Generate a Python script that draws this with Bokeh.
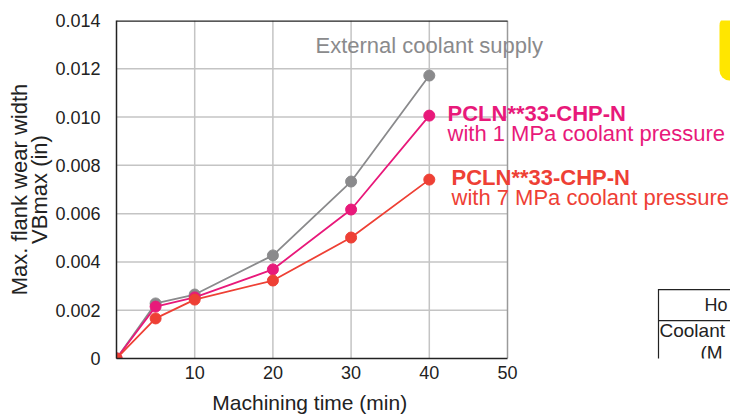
from bokeh.plotting import figure
from bokeh.models import Label, BoxAnnotation, PolyAnnotation, FixedTicker
from bokeh.embed import file_html
from bokeh.resources import INLINE

time_min = [0, 5, 10, 20, 30, 40]
external = [0.0, 0.00228, 0.00265, 0.00427, 0.00733, 0.01172]
mpa1 = [0.0, 0.00215, 0.00253, 0.00369, 0.00617, 0.01006]
mpa7 = [0.0, 0.00166, 0.00244, 0.00323, 0.00501, 0.00741]
x_ticks = [10, 20, 30, 40, 50]
y_ticks = [0, 0.002, 0.004, 0.006, 0.008, 0.010, 0.012, 0.014]
y_tick_labels = ["0", "0.002", "0.004", "0.006", "0.008", "0.010", "0.012", "0.014"]

GRAY = "#8a8a8c"
PINK = "#e8197a"
RED = "#ee4035"
FONT = "Liberation Sans"
INK = "#222222"

# pixel scale of the chart frame (used to place side notes)
X_PX = 7.82          # px per minute
Y_PX = 338 / 0.014   # px per inch
def px(x):
    return (x - 116) / X_PX
def py(y):
    return (358 - y) / Y_PX

p = figure(width=730, height=417, output_backend="svg", toolbar_location=None,
           x_range=(0, 614 / X_PX), y_range=(0, 0.014),
           min_border_left=116, min_border_right=0, min_border_top=20, min_border_bottom=59)
p.background_fill_color = "white"
p.border_fill_color = "white"
p.outline_line_color = None
p.grid.visible = False

for ax in (p.xaxis[0], p.yaxis[0]):
    ax.major_tick_line_color = None
    ax.minor_tick_line_color = None
    ax.axis_line_color = INK
    ax.axis_line_width = 1.5
    ax.major_label_text_font = FONT
    ax.major_label_text_font_size = "18px"
    ax.major_label_text_color = INK
    ax.axis_label_text_font = FONT
    ax.axis_label_text_font_style = "normal"
    ax.axis_label_text_color = INK

p.xaxis.bounds = (0, 50)
p.xaxis.ticker = FixedTicker(ticks=x_ticks)
p.yaxis.ticker = FixedTicker(ticks=y_ticks)
p.yaxis.major_label_overrides = {t: l for t, l in zip(y_ticks, y_tick_labels)}
p.xaxis.major_label_standoff = 1
p.yaxis.major_label_standoff = 10
# trailing no-break spaces keep the label centred under the 0-50 scale
p.xaxis.axis_label = "Machining time (min)" + "\u00a0" * 39
p.xaxis.axis_label_text_font_size = "21px"
p.xaxis.axis_label_standoff = 9
p.yaxis.axis_label = "Max. flank wear width\nVBmax (in)"
p.yaxis.axis_label_text_font_size = "22px"
p.yaxis.axis_label_text_line_height = 0.8
p.yaxis.axis_label_standoff = 0

# grid limited to the chart box
p.segment(x0=0, x1=50, y0=y_ticks[1:-1], y1=y_ticks[1:-1], line_color="#c4c4c4", line_width=1.5)
p.segment(x0=x_ticks[:-1], x1=x_ticks[:-1], y0=0, y1=0.014, line_color="#c4c4c4", line_width=1.5)
p.segment(x0=[50], x1=[50], y0=[0], y1=[0.014], line_color="#9a9a9a", line_width=1.5)
p.segment(x0=[0], x1=[50], y0=[0.014], y1=[0.014], line_color=INK, line_width=2.5)

for ys, col in ((external, GRAY), (mpa1, PINK), (mpa7, RED)):
    p.line(time_min, ys, line_color=col, line_width=1.8)
    p.scatter(time_min, ys, size=11, fill_color=col, line_color=col)

def lab(x, y, text, color, bold=False, size="22px"):
    p.add_layout(Label(x=px(x), y=py(y), text=text, text_color=color, text_font=FONT,
                       text_font_size=size, text_font_style="bold" if bold else "normal",
                       text_baseline="middle", text_align="left"))

lab(315, 45, "External coolant supply", GRAY)
lab(447, 113, "PCLN**33-CHP-N", PINK, bold=True)
lab(447, 133, "with 1 MPa coolant pressure", PINK)
lab(451, 177, "PCLN**33-CHP-N", RED, bold=True)
lab(451, 197, "with 7 MPa coolant pressure", RED)

# neighbouring elements cut at the picture edge: a yellow tab and a table
p.add_layout(BoxAnnotation(left=px(719), right=px(745), bottom=py(80), top=py(15),
                           fill_color="#ffe600", fill_alpha=1, line_color=None,
                           border_radius=10))
for yy in (289, 320, 365):
    p.add_layout(PolyAnnotation(xs=[px(658), px(745), px(745), px(658)],
                                ys=[py(yy - 0.5), py(yy - 0.5), py(yy + 0.7), py(yy + 0.7)],
                                fill_color=INK, fill_alpha=1, line_color=None))
p.add_layout(PolyAnnotation(xs=[px(657.4), px(658.6), px(658.6), px(657.4)],
                            ys=[py(288.5), py(288.5), py(430), py(430)],
                            fill_color=INK, fill_alpha=1, line_color=None))
def tlab(x, y, text, size="19px"):
    p.add_layout(Label(x=px(x), y=py(y), text=text, text_color=INK, text_font=FONT,
                       text_font_size=size, text_baseline="middle", text_align="left"))
tlab(704, 304, "Ho", "18px")
tlab(659, 330, "Coolant")
tlab(700, 352, "(M")

open("out.html", "w").write(file_html(p, INLINE))
